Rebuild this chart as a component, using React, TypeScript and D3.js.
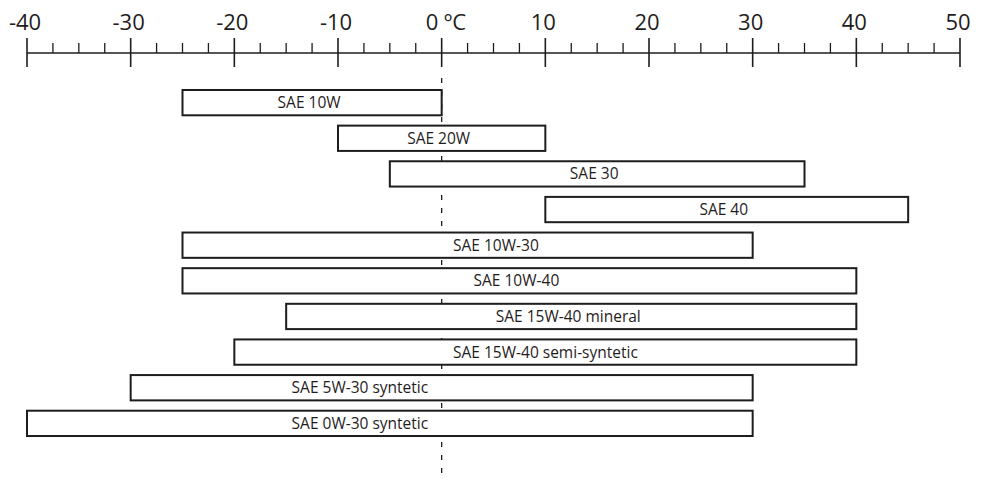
import * as d3 from "d3";

const oils = [
  "SAE 10W",
  "SAE 20W",
  "SAE 30",
  "SAE 40",
  "SAE 10W-30",
  "SAE 10W-40",
  "SAE 15W-40 mineral",
  "SAE 15W-40 semi-syntetic",
  "SAE 5W-30 syntetic",
  "SAE 0W-30 syntetic",
];
const minTemp = [-25, -10, -5, 10, -25, -25, -15, -20, -30, -40];
const maxTemp = [0, 10, 35, 45, 30, 40, 40, 40, 30, 30];
// where the label sits: null = centred in the bar, otherwise a temperature + anchor
const labelAt: ({ t: number; anchor: "start" | "end" } | null)[] = [
  null, null, null, null,
  { t: 1.1, anchor: "start" },
  null, null,
  { t: 1.1, anchor: "start" },
  { t: -1.3, anchor: "end" },
  { t: -1.3, anchor: "end" },
];
const majorTicks = [-40, -30, -20, -10, 0, 10, 20, 30, 40, 50];

const W = 984;
const H = 478;
const ink = "#1f1c1d";
const font = "'Open Sans', 'Noto Sans', sans-serif";

export default function App() {
  const x = d3.scaleLinear().domain([-40, 50]).range([27, 960]);
  const y = d3.scaleBand<string>().domain(oils).range([85, 441]).paddingInner(0.29).paddingOuter(0.14);
  const minorTicks = d3.range(-40, 50.01, 2.5).filter((t) => t % 10 !== 0);
  const axisY = 53;

  return (
    <div style={{ position: "fixed", left: 0, top: 0 }}>
      <svg width={W} height={H} style={{ display: "block", background: "#fff" }}>
        {/* axis */}
        <line x1={x(-40)} x2={x(50)} y1={axisY} y2={axisY} stroke={ink} strokeWidth={1.5} />
        {majorTicks.map((t) => (
          <line key={"M" + t} x1={x(t)} x2={x(t)} y1={38} y2={67} stroke={ink} strokeWidth={1.6} />
        ))}
        {minorTicks.map((t) => (
          <line key={"m" + t} x1={x(t)} x2={x(t)} y1={43} y2={axisY} stroke={ink} strokeWidth={1.3} />
        ))}
        {majorTicks.map((t) =>
          t === 0 ? (
            <text key={"l" + t} x={x(t) - 16} y={30} fontFamily={font} fontSize={22} fontWeight={500} fill={ink}>
              0 ºC
            </text>
          ) : (
            <text key={"l" + t} x={x(t) - 2} y={30} textAnchor="middle" fontFamily={font} fontSize={22} fontWeight={500} fill={ink}>
              {t}
            </text>
          )
        )}

        {/* zero line */}
        <line x1={x(0)} x2={x(0)} y1={78} y2={H} stroke={ink} strokeWidth={1.3} strokeDasharray="5,8" />

        {/* bars */}
        {oils.map((name, i) => {
          const x0 = x(minTemp[i]);
          const x1 = x(maxTemp[i]);
          const by = y(name)!;
          const lab = labelAt[i];
          const lx = lab ? x(lab.t) : (x0 + x1) / 2 - 3;
          return (
            <g key={name}>
              <rect x={x0} y={by} width={x1 - x0} height={y.bandwidth()} fill="#fff" stroke={ink} strokeWidth={2} />
              <text
                x={lx}
                y={by + y.bandwidth() / 2 + 5.5}
                textAnchor={lab ? lab.anchor : "middle"}
                fontFamily={font}
                fontSize={15.5}
                fontWeight={500}
                fill={ink}
              >
                {name}
              </text>
            </g>
          );
        })}
      </svg>
    </div>
  );
}
